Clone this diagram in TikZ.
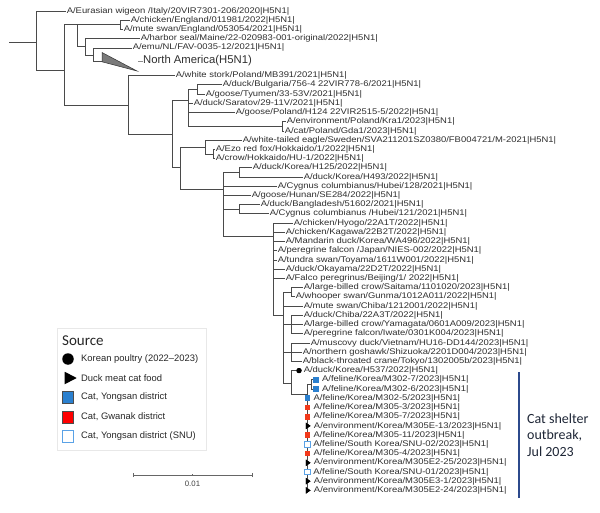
\documentclass[tikz,border=0pt]{standalone}
\usepackage{fontspec}
\setmainfont{Liberation Sans}
\newfontfamily\calib{Carlito}
\newfontfamily\lblfont[FakeStretch=1.15]{Liberation Sans}
\usetikzlibrary{shapes.geometric}
\definecolor{edge}{HTML}{4A4A4A}
\definecolor{txt}{HTML}{2E2E2E}
\definecolor{ybl}{HTML}{2B80CF}
\definecolor{gred}{HTML}{F23A1C}
\definecolor{lred}{HTML}{FF0000}
\definecolor{snu}{HTML}{5AA2E6}
\definecolor{navy}{HTML}{2C4A8C}
\definecolor{navytxt}{HTML}{1E2636}
\tikzset{
  br/.style={draw=edge, line width=0.75pt},
  lbl/.style={anchor=west, inner sep=0.6pt, text=txt, font=\lblfont\fontsize{8.2}{9}\selectfont},
  sqY/.style={rectangle, fill=ybl, minimum size=5.6pt, inner sep=0pt},
  sqG/.style={rectangle, fill=gred, minimum size=5.6pt, inner sep=0pt},
  sqS/.style={rectangle, draw=snu, fill=white, line width=0.6pt, minimum size=5.2pt, inner sep=0pt},
  trE/.style={isosceles triangle, fill=black, minimum height=4.6pt, minimum width=5pt, inner sep=0pt, isosceles triangle apex angle=70},
  legtxt/.style={anchor=west, inner sep=0pt, text=black!85, font=\fontsize{9.4}{11}\selectfont},
}
\newcommand\tleaf[4]{\coordinate (#1) at (#2,#3); \node[lbl] (#1l) at (#1) {#4};}
\newcommand\symleaf[6]{\coordinate (#1) at (#2,#3); \node[#4] (#1s) at (#2+#5,#3) {}; \node[lbl] (#1l) at ([xshift=2.3pt]#1s.east) {#6};}
\begin{document}
\begin{tikzpicture}[x=1pt,y=-1pt]
\useasboundingbox (0,0) rectangle (600,513);
% internal nodes
\coordinate (root0) at (9,42);
\coordinate (nA) at (36,42);
\coordinate (nB) at (64,70);
\coordinate (nC) at (77,24.8);
\coordinate (nD) at (120,24.8);
\coordinate (nE) at (85,46);
\coordinate (nF) at (93,55);
\coordinate (triL) at (102,61);
\coordinate (nG) at (128,105);
\coordinate (nH) at (172,134);
\coordinate (nI) at (188,100);
\coordinate (nJ) at (197,89.4);
\coordinate (nK) at (282,126.2);
\coordinate (nL) at (180,167);
\coordinate (nM) at (205,147);
\coordinate (nN) at (213,154);
\coordinate (nO) at (223,189);
\coordinate (nP) at (239,172.3);
\coordinate (nQ) at (239,209.2);
\coordinate (nR) at (273,236);
\coordinate (nS) at (283,315);
\coordinate (nT) at (291,292.2);
\coordinate (nU) at (291,324.5);
\coordinate (nV) at (291,352.1);
\coordinate (nW) at (291,383);
\coordinate (nY) at (307,394);
\coordinate (nX) at (311,384.4);
% leaves
\tleaf{wig}{66}{11.0}{A/Eurasian wigeon /Italy/20VIR7301-206/2020|H5N1|}
\tleaf{cEng}{130}{20.2}{A/chicken/England/011981/2022|H5N1|}
\tleaf{msEng}{123}{29.4}{A/mute swan/England/053054/2021|H5N1|}
\tleaf{hseal}{140}{38.7}{A/harbor seal/Maine/22-020983-001-original/2022|H5N1|}
\tleaf{emu}{132}{47.9}{A/emu/NL/FAV-0035-12/2021|H5N1|}
\tleaf{stork}{175}{75.5}{A/white stork/Poland/MB391/2021|H5N1|}
\tleaf{bulg}{222}{84.8}{A/duck/Bulgaria/756-4 22VIR778-6/2021|H5N1|}
\tleaf{tyu}{205}{94.0}{A/goose/Tyumen/33-53V/2021|H5N1|}
\tleaf{sara}{193}{103.2}{A/duck/Saratov/29-11V/2021|H5N1|}
\tleaf{gPol}{235}{112.4}{A/goose/Poland/H124 22VIR2515-5/2022|H5N1|}
\tleaf{envPol}{286}{121.6}{A/environment/Poland/Kra1/2023|H5N1|}
\tleaf{catPol}{284}{130.9}{A/cat/Poland/Gda1/2023|H5N1|}
\tleaf{wte}{242}{140.1}{A/white-tailed eagle/Sweden/SVA211201SZ0380/FB004721/M-2021|H5N1|}
\tleaf{ezo}{215}{149.3}{A/Ezo red fox/Hokkaido/1/2022|H5N1|}
\tleaf{crowH}{215}{158.5}{A/crow/Hokkaido/HU-1/2022|H5N1|}
\tleaf{h125}{252}{167.7}{A/duck/Korea/H125/2022|H5N1|}
\tleaf{h493}{303}{177.0}{A/duck/Korea/H493/2022|H5N1|}
\tleaf{cyg128}{277}{186.2}{A/Cygnus columbianus/Hubei/128/2021|H5N1|}
\tleaf{gHun}{251}{195.4}{A/goose/Hunan/SE284/2022|H5N1|}
\tleaf{bang}{260}{204.6}{A/duck/Bangladesh/51602/2021|H5N1|}
\tleaf{cyg121}{269}{213.8}{A/Cygnus columbianus /Hubei/121/2021|H5N1|}
\tleaf{hyogo}{293}{223.1}{A/chicken/Hyogo/22A1T/2022|H5N1|}
\tleaf{kagawa}{285}{232.3}{A/chicken/Kagawa/22B2T/2022|H5N1|}
\tleaf{mand}{285}{241.5}{A/Mandarin duck/Korea/WA496/2022|H5N1|}
\tleaf{perJ}{277}{250.7}{A/peregrine falcon /Japan/NIES-002/2022|H5N1|}
\tleaf{tundra}{277}{259.9}{A/tundra swan/Toyama/1611W001/2022|H5N1|}
\tleaf{okay}{285}{269.2}{A/duck/Okayama/22D2T/2022|H5N1|}
\tleaf{falco}{285}{278.4}{A/Falco peregrinus/Beijing/1/ 2022|H5N1|}
\tleaf{saitama}{303}{287.6}{A/large-billed crow/Saitama/1101020/2023|H5N1|}
\tleaf{whooper}{295}{296.8}{A/whooper swan/Gunma/1012A011/2022|H5N1|}
\tleaf{mscC}{303}{306.0}{A/mute swan/Chiba/1212001/2022|H5N1|}
\tleaf{dChiba}{303}{315.3}{A/duck/Chiba/22A3T/2022|H5N1|}
\tleaf{yama}{303}{324.5}{A/large-billed crow/Yamagata/0601A009/2023|H5N1|}
\tleaf{iwate}{303}{333.7}{A/peregrine falcon/Iwate/0301K004/2023|H5N1|}
\tleaf{musc}{310}{342.9}{A/muscovy duck/Vietnam/HU16-DD144/2023|H5N1|}
\tleaf{gosh}{302}{352.1}{A/northern goshawk/Shizuoka/2201D004/2023|H5N1|}
\tleaf{crane}{302}{361.4}{A/black-throated crane/Tokyo/1302005b/2023|H5N1|}
% symbol leaves
\coordinate (h537) at (299,370.6);
\node[circle, fill=black, minimum size=5.2pt, inner sep=0pt] (h537s) at (h537) {};
\node[lbl] (h537l) at ([xshift=1.2pt]h537s.east) {A/duck/Korea/H537/2022|H5N1|};
\symleaf{m3027}{313.5}{379.8}{sqY}{2.5}{A/feline/Korea/M302-7/2023|H5N1|}
\symleaf{m3026}{313.5}{389.0}{sqY}{2.5}{A/feline/Korea/M302-6/2023|H5N1|}
\symleaf{m3025}{307}{398.2}{sqY}{0.5}{A/feline/Korea/M302-5/2023|H5N1|}
\symleaf{m3053}{307}{407.5}{sqG}{0.5}{A/feline/Korea/M305-3/2023|H5N1|}
\symleaf{m3057}{307}{416.7}{sqG}{0.5}{A/feline/Korea/M305-7/2023|H5N1|}
\symleaf{e13}{307}{425.9}{trE}{0.6}{A/environment/Korea/M305E-13/2023|H5N1|}
\symleaf{m30511}{307}{435.1}{sqG}{0.5}{A/feline/Korea/M305-11/2023|H5N1|}
\symleaf{snu2}{307}{444.3}{sqS}{0.3}{A/feline/South Korea/SNU-02/2023|H5N1|}
\symleaf{m3054}{307}{453.6}{sqG}{0.5}{A/feline/Korea/M305-4/2023|H5N1|}
\symleaf{e225}{307}{462.8}{trE}{0.6}{A/environment/Korea/M305E2-25/2023|H5N1|}
\symleaf{snu1}{307}{472.0}{sqS}{0.3}{A/feline/South Korea/SNU-01/2023|H5N1|}
\symleaf{e31}{307}{481.2}{trE}{0.6}{A/environment/Korea/M305E3-1/2023|H5N1|}
\symleaf{e224}{307}{490.4}{trE}{0.6}{A/environment/Korea/M305E2-24/2023|H5N1|}
% branches
\draw[br] (root0) -- (nA);
\foreach \c in {wig,nB} \draw[br] (nA) |- (\c);
\foreach \c in {nC,nG} \draw[br] (nB) |- (\c);
\foreach \c in {nD,nE} \draw[br] (nC) |- (\c);
\foreach \c in {cEng,msEng} \draw[br] (nD) |- (\c);
\foreach \c in {hseal,nF} \draw[br] (nE) |- (\c);
\foreach \c in {emu,triL} \draw[br] (nF) |- (\c);
\foreach \c in {stork,nH} \draw[br] (nG) |- (\c);
\foreach \c in {nI,nL} \draw[br] (nH) |- (\c);
\foreach \c in {nJ,sara,gPol,nK} \draw[br] (nI) |- (\c);
\foreach \c in {bulg,tyu} \draw[br] (nJ) |- (\c);
\foreach \c in {envPol,catPol} \draw[br] (nK) |- (\c);
\foreach \c in {nM,nO} \draw[br] (nL) |- (\c);
\foreach \c in {wte,nN} \draw[br] (nM) |- (\c);
\foreach \c in {ezo,crowH} \draw[br] (nN) |- (\c);
\foreach \c in {nP,cyg128,gHun,nQ,nR} \draw[br] (nO) |- (\c);
\foreach \c in {h125,h493} \draw[br] (nP) |- (\c);
\foreach \c in {bang,cyg121} \draw[br] (nQ) |- (\c);
\foreach \c in {hyogo,kagawa,mand,perJ,tundra,okay,falco,nS} \draw[br] (nR) |- (\c);
\foreach \c in {nT,mscC,nU,nV,nW} \draw[br] (nS) |- (\c);
\foreach \c in {saitama,whooper} \draw[br] (nT) |- (\c);
\foreach \c in {dChiba,yama,iwate} \draw[br] (nU) |- (\c);
\foreach \c in {musc,gosh,crane} \draw[br] (nV) |- (\c);
\foreach \c in {h537,nY} \draw[br] (nW) |- (\c);
\foreach \c in {nX,m3025,m3053,m3057,e13,m30511,snu2,m3054,e225,snu1,e31,e224} \draw[br] (nY) |- (\c);
\foreach \c in {m3027,m3026} \draw[br] (nX) |- (\c);
% redraw symbols on top of lines
\node[circle, fill=black, minimum size=5.2pt, inner sep=0pt] at (h537s) {};
\foreach \c in {m3027,m3026,m3025} \node[sqY] at (\c s) {};
\foreach \c in {m3053,m3057,m30511,m3054} \node[sqG] at (\c s) {};
\foreach \c in {snu2,snu1} \node[sqS] at (\c s) {};
\foreach \c in {e13,e225,e31,e224} \node[trE] at (\c s) {};
% collapsed clade
\filldraw[fill=black!52, draw=black!80, line width=0.5pt] (102,52.5) coordinate (triT) -- (triL) -- (102,61.8) -- (137,71) coordinate (triTip) -- cycle;
\coordinate (naA) at (138,61);
\coordinate (naB) at (142.5,61);
\draw[draw=black!45, line width=0.5pt] (naA) -- (naB);
\node[anchor=west, inner sep=0.5pt, text=txt, font=\fontsize{11.3}{13}\selectfont] (naL) at (naB) {North America(H5N1)};
% legend
\node[draw=black!9, line width=0.6pt, minimum width=149pt, minimum height=122pt, anchor=north west, inner sep=0pt] (legbox) at (57,328) {};
\node[anchor=west, inner sep=0pt, font=\calib\fontsize{15}{17}\selectfont, text=black!85] (legtitle) at (62,341) {Source};
\node[circle, fill=black, minimum size=11.5pt, inner sep=0pt] (lg1s) at (68,359) {};
\node[legtxt] (lg1) at (81,359) {Korean poultry (2022–2023)};
\node[isosceles triangle, fill=black, minimum height=12pt, minimum width=12.5pt, inner sep=0pt, isosceles triangle apex angle=60, isosceles triangle stretches] (lg2s) at (68.5,378) {};
\node[legtxt] (lg2) at (81,378) {Duck meat cat food};
\node[rectangle, fill=ybl, draw=black!70, line width=0.5pt, minimum width=11pt, minimum height=12pt, inner sep=0pt] (lg3s) at (68,397.5) {};
\node[legtxt] (lg3) at (81,397.5) {Cat, Yongsan district};
\node[rectangle, fill=lred, draw=black!70, line width=0.5pt, minimum width=11pt, minimum height=12pt, inner sep=0pt] (lg4s) at (68,417) {};
\node[legtxt] (lg4) at (81,417) {Cat, Gwanak district};
\node[rectangle, fill=white, draw=snu, line width=0.7pt, minimum width=11pt, minimum height=12pt, inner sep=0pt] (lg5s) at (68,436) {};
\node[legtxt] (lg5) at (81,436) {Cat, Yongsan district (SNU)};
% scale bar
\coordinate (sbL) at (133,475);
\coordinate (sbR) at (252,475);
\draw[draw=black!60, line width=0.6pt] (sbL) -- (sbR);
\draw[draw=black!60, line width=0.5pt] ([yshift=-2pt]sbL) -- ([yshift=2pt]sbL);
\draw[draw=black!60, line width=0.5pt] ([yshift=-2pt]sbR) -- ([yshift=2pt]sbR);
\draw[draw=black!60, line width=0.4pt] (192.5,474) -- (192.5,476);
\node[inner sep=0pt, text=black!75, font=\fontsize{7.8}{9}\selectfont] (sbt) at (192.5,483.5) {0.01};
% outbreak bar
\coordinate (obT) at (519,372);
\coordinate (obB) at (519,498);
\draw[draw=navy, line width=2.4pt] (obT) -- (obB);
\node[anchor=west, align=left, inner sep=0pt, text=navytxt, font=\calib\fontsize{14}{16.5}\selectfont] (obtxt) at (527,435) {Cat shelter\\outbreak,\\Jul 2023};
\end{tikzpicture}
\end{document}
